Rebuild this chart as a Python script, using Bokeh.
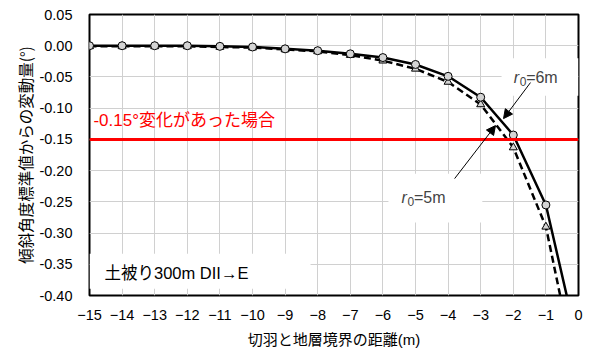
from bokeh.plotting import figure
from bokeh.models import (Range1d, FixedTicker, Span, Label, Arrow, NormalHead, BoxAnnotation,
                          NumeralTickFormatter, Title)
from bokeh.embed import file_html
from bokeh.resources import INLINE

# ---- data ----
distance = [-15, -14, -13, -12, -11, -10, -9, -8, -7, -6, -5, -4, -3, -2, -1, 0]
r0_6m = [0.000, 0.000, 0.000, 0.000, -0.001, -0.002, -0.005, -0.008, -0.013,
         -0.019, -0.030, -0.049, -0.0825, -0.143, -0.255, -0.482]
r0_5m = [-0.001, -0.001, -0.001, -0.001, -0.002, -0.003, -0.006, -0.009, -0.015,
         -0.024, -0.037, -0.058, -0.094, -0.163, -0.290, -0.541]
threshold = -0.15
x_ticks = list(range(-15, 1))
y_ticks = [0.05, 0.00, -0.05, -0.10, -0.15, -0.20, -0.25, -0.30, -0.35, -0.40]
x_title = "切羽と地層境界の距離(m)"
y_title = "傾斜角度標準値からの変動量(°)"

LAT = "'Liberation Sans', 'Noto Sans CJK JP'"
CJK = "'Noto Sans CJK JP'"

p = figure(frame_width=489, frame_height=281,
           x_range=Range1d(-15, 0), y_range=Range1d(-0.40, 0.05),
           output_backend="svg", toolbar_location=None,
           min_border_left=89, min_border_top=14, min_border_right=6, min_border_bottom=40)
p.background_fill_color = "white"
p.border_fill_color = "white"
p.outline_line_color = "black"
p.outline_line_width = 2

for ax in (p.xaxis[0], p.yaxis[0]):
    ax.axis_line_color = None
    ax.major_tick_out = 0
    ax.major_tick_in = 0
    ax.minor_tick_line_color = None
    ax.major_label_text_font = LAT
    ax.major_label_text_font_size = "14.5px"
    ax.major_label_text_color = "black"
    ax.axis_label_text_font_style = "normal"
    ax.axis_label_text_color = "black"

p.xaxis.ticker = FixedTicker(ticks=x_ticks)
p.yaxis.ticker = FixedTicker(ticks=y_ticks)
p.yaxis.formatter = NumeralTickFormatter(format="0.00")
p.xaxis.major_label_standoff = 14
p.yaxis.major_label_standoff = 17
p.xaxis.axis_label = x_title
p.xaxis.axis_label_text_font = LAT
p.xaxis.axis_label_text_font_size = "15px"
p.xaxis.axis_label_standoff = 8

# y-axis title placed as a side title (vertical text)
p.add_layout(Title(text=y_title, align="center", text_font=CJK, text_font_size="15.5px",
                   text_font_style="normal", text_color="black", standoff=1), "left")

p.xgrid.grid_line_color = "#d0d0d0"
p.ygrid.grid_line_color = "#d0d0d0"
p.xgrid.grid_line_width = 1
p.ygrid.grid_line_width = 1

# white text boxes (as in the reference)
for l, r, t, b in [(-15, -8.22, -0.333, -0.389),
                   (-5.83, -2.95, -0.205, -0.283),
                   (-2.36, 0, -0.020, -0.080)]:
    p.add_layout(BoxAnnotation(left=l, right=r, top=t, bottom=b,
                               fill_color="white", fill_alpha=1.0, line_alpha=0,
                               level="underlay"))

p.add_layout(Span(location=threshold, dimension="width", line_color="#ff0000", line_width=3))

# series r0=5m (dashed, triangles)
p.line(distance, r0_5m, line_color="black", line_width=2.5, line_dash="7 4")
p.scatter(distance, r0_5m, marker="triangle", size=8, fill_color="#d4d4d4",
          line_color="black", line_width=1)
# series r0=6m (solid, circles)
p.line(distance, r0_6m, line_color="black", line_width=2.5)
p.scatter(distance, r0_6m, marker="circle", size=8, fill_color="#d4d4d4",
          line_color="black", line_width=1)

# annotations
p.add_layout(Label(x=-14.88, y=-0.12, text="-0.15°変化があった場合", text_color="#ff0000",
                   text_font=LAT, text_font_size="17px", text_baseline="middle"))
p.add_layout(Label(x=-14.54, y=-0.3635, text="土被り300m DII→E", text_color="black",
                   text_font=LAT, text_font_size="16.5px", text_baseline="middle"))

def r0_label(x, y, rest):
    p.add_layout(Label(x=x, y=y, text="r", text_font=LAT, text_font_style="italic",
                       text_font_size="16px", text_baseline="alphabetic"))
    p.add_layout(Label(x=x, y=y, x_offset=6, y_offset=-4, text="0", text_font=LAT,
                       text_font_size="12px", text_baseline="alphabetic"))
    p.add_layout(Label(x=x, y=y, x_offset=12.5, text=rest, text_font=LAT,
                       text_font_size="16px", text_baseline="alphabetic"))

r0_label(-1.99, -0.051, "=6m")
r0_label(-5.43, -0.2428, "=5m")

p.add_layout(Arrow(end=NormalHead(size=9, fill_color="black", line_color="black"),
                   x_start=-1.472, y_start=-0.059, x_end=-2.30, y_end=-0.1167,
                   line_color="black", line_width=1))
p.add_layout(Arrow(end=NormalHead(size=9, fill_color="black", line_color="black"),
                   x_start=-3.80, y_start=-0.2128, x_end=-2.546, y_end=-0.1279,
                   line_color="black", line_width=1))

open("out.html", "w").write(file_html(p, INLINE))
